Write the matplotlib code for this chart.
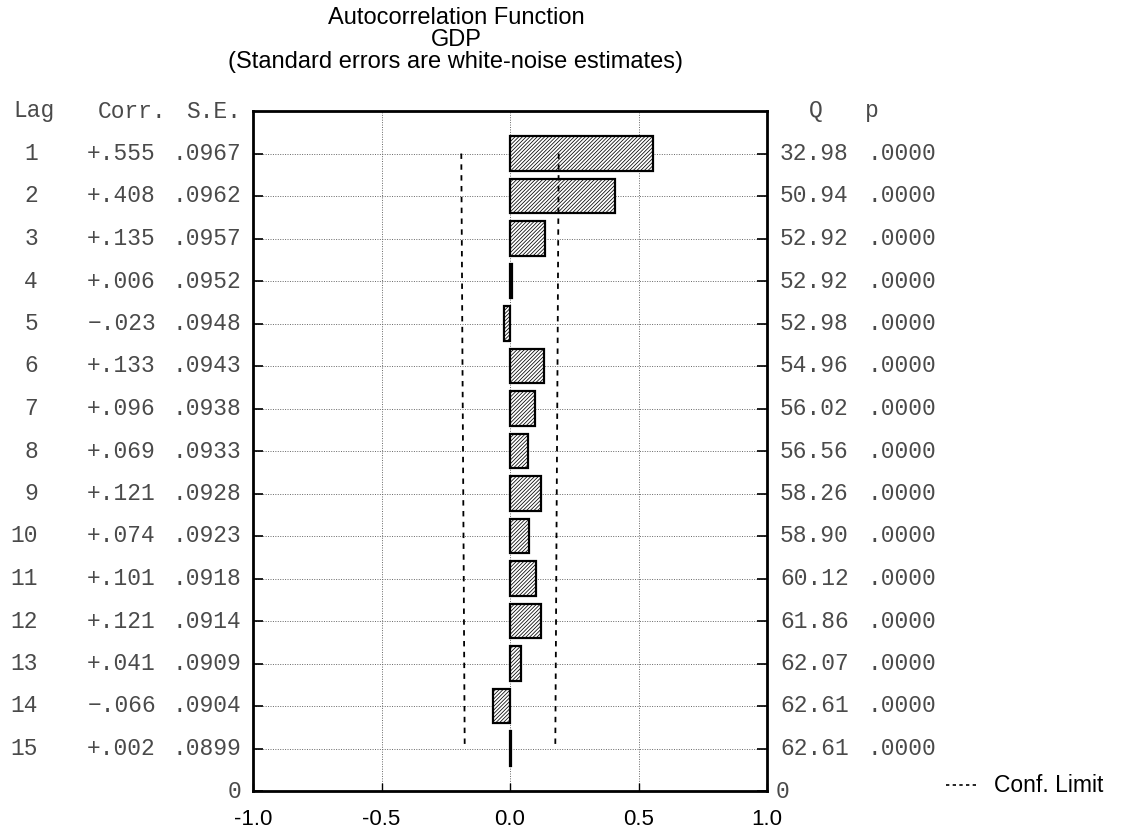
import numpy as np
import matplotlib
matplotlib.use("Agg")
import matplotlib.pyplot as plt
from matplotlib import transforms
from matplotlib.lines import Line2D

lags = list(range(1, 16))
corr = [0.555, 0.408, 0.135, 0.006, -0.023, 0.133, 0.096, 0.069,
        0.121, 0.074, 0.101, 0.121, 0.041, -0.066, 0.002]
se = [0.0967, 0.0962, 0.0957, 0.0952, 0.0948, 0.0943, 0.0938, 0.0933,
      0.0928, 0.0923, 0.0918, 0.0914, 0.0909, 0.0904, 0.0899]
q_stat = [32.98, 50.94, 52.92, 52.92, 52.98, 54.96, 56.02, 56.56,
          58.26, 58.90, 60.12, 61.86, 62.07, 62.61, 62.61]
p_val = [0.0] * 15
xticks = [-1.0, -0.5, 0.0, 0.5, 1.0]

W, H = 1125, 832
def fx(px):
    return px / W
def fy(py):
    return 1 - py / H

mono = ['Liberation Mono', 'DejaVu Sans Mono']
sans = ['Liberation Sans', 'DejaVu Sans']
mono_size = 16.5
txt_col = '#4a4a4a'
plt.rcParams['hatch.linewidth'] = 0.55

fig = plt.figure(figsize=(W / 100, H / 100), dpi=100)
ax = fig.add_axes([fx(253), fy(791), 514 / W, 680 / H])
ax.set_xlim(-1, 1)
ax.set_ylim(16, 0)

# grid
ax.set_yticks(range(1, 17))
ax.set_yticklabels([])
ax.set_xticks(xticks)
ax.set_xticklabels(['%.1f' % v for v in xticks], fontfamily=sans, fontsize=16)
ax.grid(True, ls=(0, (1, 1.5)), color='#666666', lw=0.7)
ax.set_axisbelow(True)
ax.tick_params(axis='y', direction='in', length=7, width=1.2, left=True, right=True)
ax.tick_params(axis='x', direction='in', length=6, width=1, pad=13)
for s in ax.spines.values():
    s.set_linewidth(2)

# bars
ax.barh(lags, corr, height=0.82, color='white', edgecolor='black',
        hatch='/' * 9, linewidth=1.6, zorder=3)

# confidence limits
conf = 1.96 * np.array(se)
ax.plot(conf, lags, color='black', ls=(0, (3, 3)), lw=1.3, zorder=4)
ax.plot(-conf, lags, color='black', ls=(0, (3, 3)), lw=1.3, zorder=4)

# side tables
tr = transforms.blended_transform_factory(fig.transFigure, ax.transData)
kw = dict(transform=tr, va='center', fontfamily=mono, fontsize=mono_size, color=txt_col)
ax.text(fx(13), 0, 'Lag', ha='left', **kw)
ax.text(fx(98), 0, 'Corr.', ha='left', **kw)
ax.text(fx(241), 0, 'S.E.', ha='right', **kw)
ax.text(fx(816), 0, 'Q', ha='center', **kw)
ax.text(fx(872), 0, 'p', ha='center', **kw)
for lag, c, s, qv, pv in zip(lags, corr, se, q_stat, p_val):
    cs = ('+' if c >= 0 else '\u2212') + ('%.3f' % abs(c))[1:]
    ax.text(fx(38), lag, str(lag), ha='right', **kw)
    ax.text(fx(156), lag, cs, ha='right', **kw)
    ax.text(fx(241), lag, ('%.4f' % s)[1:], ha='right', **kw)
    ax.text(fx(780), lag, '%.2f' % qv, ha='left', **kw)
    ax.text(fx(936), lag, ('%.4f' % pv)[1:], ha='right', **kw)
ax.text(fx(241), 16, '0', ha='right', **kw)
ax.text(fx(776), 16, '0', ha='left', **kw)

# titles
for py, t in [(18, 'Autocorrelation Function'), (40, 'GDP'),
              (62, '(Standard errors are white-noise estimates)')]:
    fig.text(fx(456), fy(py), t, ha='center', va='center',
             fontfamily=sans, fontsize=17, color='black')

# legend
fig.add_artist(Line2D([fx(946), fx(978)], [fy(785), fy(785)],
                      transform=fig.transFigure, color='black',
                      ls=(0, (2, 2)), lw=1.2))
fig.text(fx(994), fy(785), 'Conf. Limit', ha='left', va='center',
         fontfamily=sans, fontsize=16.5, color='black')

fig.savefig('out.png', dpi=100, facecolor='white')
